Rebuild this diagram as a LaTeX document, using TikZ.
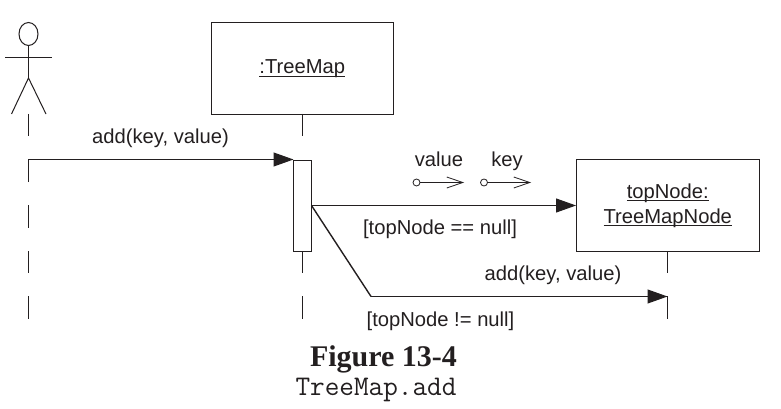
\documentclass[tikz,border=0pt]{standalone}
\usepackage{fontspec}
\setmainfont{Liberation Sans}
\newfontfamily\capserif{Liberation Serif}
\usetikzlibrary{arrows.meta,shapes.geometric}
\definecolor{ink}{HTML}{231F20}
\newcommand{\ulbl}[1]{\setbox0\hbox{#1}\rlap{\rule[-2.6pt]{\wd0}{1pt}}\box0}
\tikzset{
  x=1pt,y=-1pt,
  line/.style={draw=ink,line width=1pt},
  solidhead/.style={-{Triangle[length=20pt,width=14pt]}},
  openhead/.style={-{Straight Barb[length=16pt,width=11pt]}},
  objbox/.style={line,fill=white,minimum width=182.5pt,minimum height=91.5pt,inner sep=0pt},
  activation/.style={line,fill=white,minimum width=18pt,minimum height=91pt,inner sep=0pt},
  lbl/.style={text=ink,inner sep=0pt,anchor=base,font=\fontsize{20.2}{24}\selectfont},
  pin/.style={circle,line,line width=.8pt,fill=white,minimum size=7pt,inner sep=0pt},
}
\begin{document}
\begin{tikzpicture}
\useasboundingbox (0,0) rectangle (781,409);
% actor
\node[ellipse,line,minimum width=19pt,minimum height=23pt,inner sep=0pt] (head) at (28.5,34) {};
\coordinate (hip) at (28.5,78);
\coordinate (armL) at (5,57.5);
\coordinate (armR) at (52,57.5);
\coordinate (legL) at (11.5,114);
\coordinate (legR) at (46,114);
\draw[line] (head.south) -- (hip);
\draw[line] (armL) -- (armR);
\draw[line] (legL) -- (hip) -- (legR);
% objects
\node[objbox] (treemap) at (302.3,68.5) {};
\node[objbox] (topnode) at (667.8,205.5) {};
\node[lbl] (tmlabel) at (302.3,74) {\ulbl{:TreeMap}};
\node[lbl] (tnlabela) at (667.8,198.3) {\ulbl{topNode:}};
\node[lbl] (tnlabelb) at (667.8,223.3) {\ulbl{TreeMapNode}};
\node[activation] (act) at (302.5,205.5) {};
% lifelines
\foreach \n/\x/\a/\b in {a1/28.5/114/136,a2/28.5/205/228,a3/28.5/251/273,a4/28.5/296/319,
  t1/302.5/114/136,t2/302.5/251/273,t3/302.5/296/319,
  n1/667.5/251/273,n2/667.5/296/319}{
  \coordinate (\n s) at (\x,\a);
  \coordinate (\n e) at (\x,\b);
  \draw[line] (\n s) -- (\n e);
}
% calls
\coordinate (actorstart) at (28.5,182);
\coordinate (callin) at (293.5,159.5);
\draw[line,solidhead] (actorstart) |- (callin);
\coordinate (branch) at (311.5,205.5);
\coordinate (knee) at (371,296.5);
\coordinate (nodecall) at (667.5,296.5);
\draw[line,solidhead] (branch) -- (topnode.west);
\draw[line,solidhead] (knee) -- (nodecall);
\draw[line,line width=1.4pt] (branch) -- (knee);
% data tokens
\node[pin] (p1) at (416.5,182.5) {};
\coordinate (p1e) at (464,182.5);
\draw[line,openhead,line width=0.8pt] (p1) -- (p1e);
\node[pin] (p2) at (484,182.5) {};
\coordinate (p2e) at (531,182.5);
\draw[line,openhead,line width=0.8pt] (p2) -- (p2e);
% labels
\node[lbl] (l1) at (160.5,143.5) {add(key, value)};
\node[lbl] (l2) at (439,166) {value};
\node[lbl] (l3) at (507,166) {key};
\node[lbl] (l4) at (440,234.5) {[topNode == null]};
\node[lbl] (l5) at (553,280.5) {add(key, value)};
\node[lbl] (l6) at (440.5,326) {[topNode != null]};
\node[text=ink,anchor=base,inner sep=0pt,font=\capserif\bfseries\fontsize{30}{34}\selectfont] (c1) at (383.5,366.5) {Figure 13-4};
\node[text=ink,anchor=base,inner sep=0pt,font=\ttfamily\fontsize{28.4}{32}\selectfont] (c2) at (376,395.5) {TreeMap.add};
\end{tikzpicture}
\end{document}
